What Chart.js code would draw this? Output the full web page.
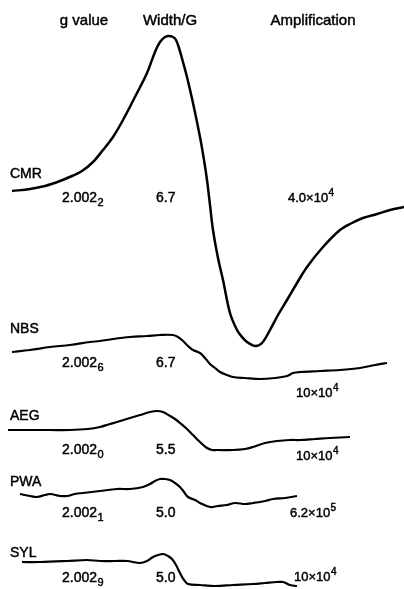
<!doctype html>
<html lang="en">
  <head>
    <meta charset="UTF-8" />
    <title>EPR spectra</title>
    <script src="https://cdn.jsdelivr.net/npm/chart.js"></script>
    <style>
      body {
        margin: 0;
        background: #fff;
      }
      canvas {
        display: block;
      }
    </style>
  </head>
  <body>
    <canvas id="eprChart" width="404" height="589"></canvas>

    <script>
      // field positions (a.u.) and signal traces (a.u., stacked, measured downward)
      const cmrX = [12, 30, 45, 60, 72, 82, 93, 103, 113, 123, 137, 147, 155, 160, 165, 169, 173, 176, 179, 183, 187, 193, 200, 204, 207, 210, 213, 218, 223, 230, 237, 242, 247, 255, 262, 270, 278, 287, 297, 307, 323, 340, 352, 363, 377, 390, 404];
      const cmrY = [191, 189, 186, 181, 176, 171, 162, 150, 137, 120, 93, 73, 52, 42, 37, 36, 37, 40, 48, 62, 77, 103, 137, 160, 180, 205, 230, 258, 280, 313, 330, 337, 342, 346, 343, 330, 315, 300, 283, 267, 247, 230, 223, 218, 214, 210, 207];

      const nbsX = [12, 30, 50, 70, 90, 100, 113, 130, 147, 160, 173, 178, 183, 188, 193, 200, 205, 210, 215, 220, 227, 233, 245, 260, 275, 287, 293, 300, 320, 340, 360, 375, 387];
      const nbsY = [352, 350, 347, 345, 342, 341, 339, 337, 336, 335, 335, 337, 341, 346, 350, 353, 358, 364, 368, 372, 375, 377, 378, 379, 378, 376, 373, 372, 371, 370, 368, 365, 363];

      const aegX = [8, 30, 50, 70, 88, 100, 110, 117, 130, 140, 150, 157, 163, 170, 175, 180, 187, 193, 200, 207, 212, 217, 233, 245, 253, 265, 277, 290, 300, 315, 330, 350];
      const aegY = [430, 430, 430, 430, 429, 427, 424, 422, 418, 415, 412, 411, 412, 416, 419, 423, 429, 435, 442, 448, 450, 450, 450, 449, 447, 443, 441, 440, 440, 439, 438, 437];

      const pwaX = [20, 30, 37, 45, 50, 60, 67, 75, 83, 100, 117, 130, 143, 150, 155, 160, 165, 170, 175, 180, 184, 188, 195, 200, 210, 218, 227, 235, 245, 253, 265, 273, 285, 297];
      const pwaY = [494, 496, 497, 495, 494, 496, 496, 494, 493, 491, 489, 489, 487, 484, 481, 479, 479, 480, 483, 487, 492, 497, 500, 503, 507, 506, 505, 503, 504, 503, 501, 499, 498, 496];

      const sylX = [22, 40, 67, 87, 100, 115, 127, 140, 147, 153, 158, 163, 168, 172, 176, 180, 184, 188, 200, 215, 233, 253, 265, 277, 283, 290, 297];
      const sylY = [562, 562, 561, 560, 561, 561, 561, 563, 561, 557, 555, 554, 556, 559, 565, 573, 580, 584, 585, 586, 585, 584, 583, 582, 582, 585, 586];

      const samples = ["CMR", "NBS", "AEG", "PWA", "SYL"];
      const gBase = ["2.002", "2.002", "2.002", "2.002", "2.002"];
      const gSub = ["2", "6", "0", "1", "9"];
      const widths = ["6.7", "6.7", "5.5", "5.0", "5.0"];
      const ampMantissa = ["4.0", "10", "10", "6.2", "10"];
      const ampExponent = ["4", "4", "4", "5", "4"];
      const headers = ["g value", "Width/G", "Amplification"];

      const traces = [
        [cmrX, cmrY],
        [nbsX, nbsY],
        [aegX, aegY],
        [pwaX, pwaY],
        [sylX, sylY],
      ];

      const FONT = "'Liberation Sans', Arial, Helvetica, sans-serif";

      // where each row's labels sit
      const rows = [
        { nameY: 174, valY: 198, ampX: 288, ampY: 198 },
        { nameY: 329, valY: 363, ampX: 296, ampY: 393 },
        { nameY: 416, valY: 450, ampX: 296, ampY: 456 },
        { nameY: 482, valY: 513, ampX: 290, ampY: 513 },
        { nameY: 553, valY: 578, ampX: 294, ampY: 577 },
      ];

      const labelPlugin = {
        id: "eprLabels",
        afterDatasetsDraw(chart) {
          const ctx = chart.ctx;
          const xs = chart.scales.x;
          const ys = chart.scales.y;
          // printed look: fill plus a hairline stroke
          const put = (t, x, y) => {
            ctx.fillText(t, x, y);
            ctx.strokeText(t, x, y);
          };
          ctx.save();
          ctx.fillStyle = "#000";
          ctx.strokeStyle = "#000";
          ctx.lineWidth = 0.45;
          ctx.textBaseline = "middle";

          ctx.font = "15px " + FONT;
          ctx.textAlign = "center";
          put(headers[0], xs.getPixelForValue(84), ys.getPixelForValue(21));
          put(headers[1], xs.getPixelForValue(170), ys.getPixelForValue(21));
          put(headers[2], xs.getPixelForValue(313), ys.getPixelForValue(21));

          ctx.textAlign = "left";
          samples.forEach((name, i) => {
            const r = rows[i];
            ctx.font = "14px " + FONT;
            put(name, xs.getPixelForValue(10), ys.getPixelForValue(r.nameY));

            // g value with subscript
            let x = xs.getPixelForValue(62);
            const vy = ys.getPixelForValue(r.valY);
            put(gBase[i], x, vy);
            x += ctx.measureText(gBase[i]).width + 0.5;
            ctx.font = "11px " + FONT;
            put(gSub[i], x, vy + 5);

            ctx.font = "14px " + FONT;
            put(widths[i], xs.getPixelForValue(156), vy);

            // amplification with superscript
            ctx.font = "13px " + FONT;
            let ax = xs.getPixelForValue(r.ampX);
            const ay = ys.getPixelForValue(r.ampY);
            const main = ampMantissa[i] + "\u00d710";
            put(main, ax, ay);
            ax += ctx.measureText(main).width + 0.5;
            ctx.font = "10px " + FONT;
            put(ampExponent[i], ax, ay - 5);
          });
          ctx.restore();
        },
      };

      new Chart(document.getElementById("eprChart").getContext("2d"), {
        type: "scatter",
        data: {
          datasets: traces.map(([xv, yv], i) => ({
            label: samples[i],
            data: xv.map((x, k) => ({ x: x, y: yv[k] })),
            showLine: true,
            borderColor: "#000",
            borderWidth: i === 0 ? 2.5 : 2.2,
            pointRadius: 0,
            tension: 0.35,
            fill: false,
          })),
        },
        options: {
          responsive: false,
          animation: false,
          layout: { padding: 0 },
          plugins: {
            legend: { display: false },
            tooltip: { enabled: false },
          },
          scales: {
            x: { type: "linear", min: 0, max: 404, display: false },
            y: { type: "linear", min: 0, max: 589, reverse: true, display: false },
          },
        },
        plugins: [labelPlugin],
      });
    </script>
  </body>
</html>
